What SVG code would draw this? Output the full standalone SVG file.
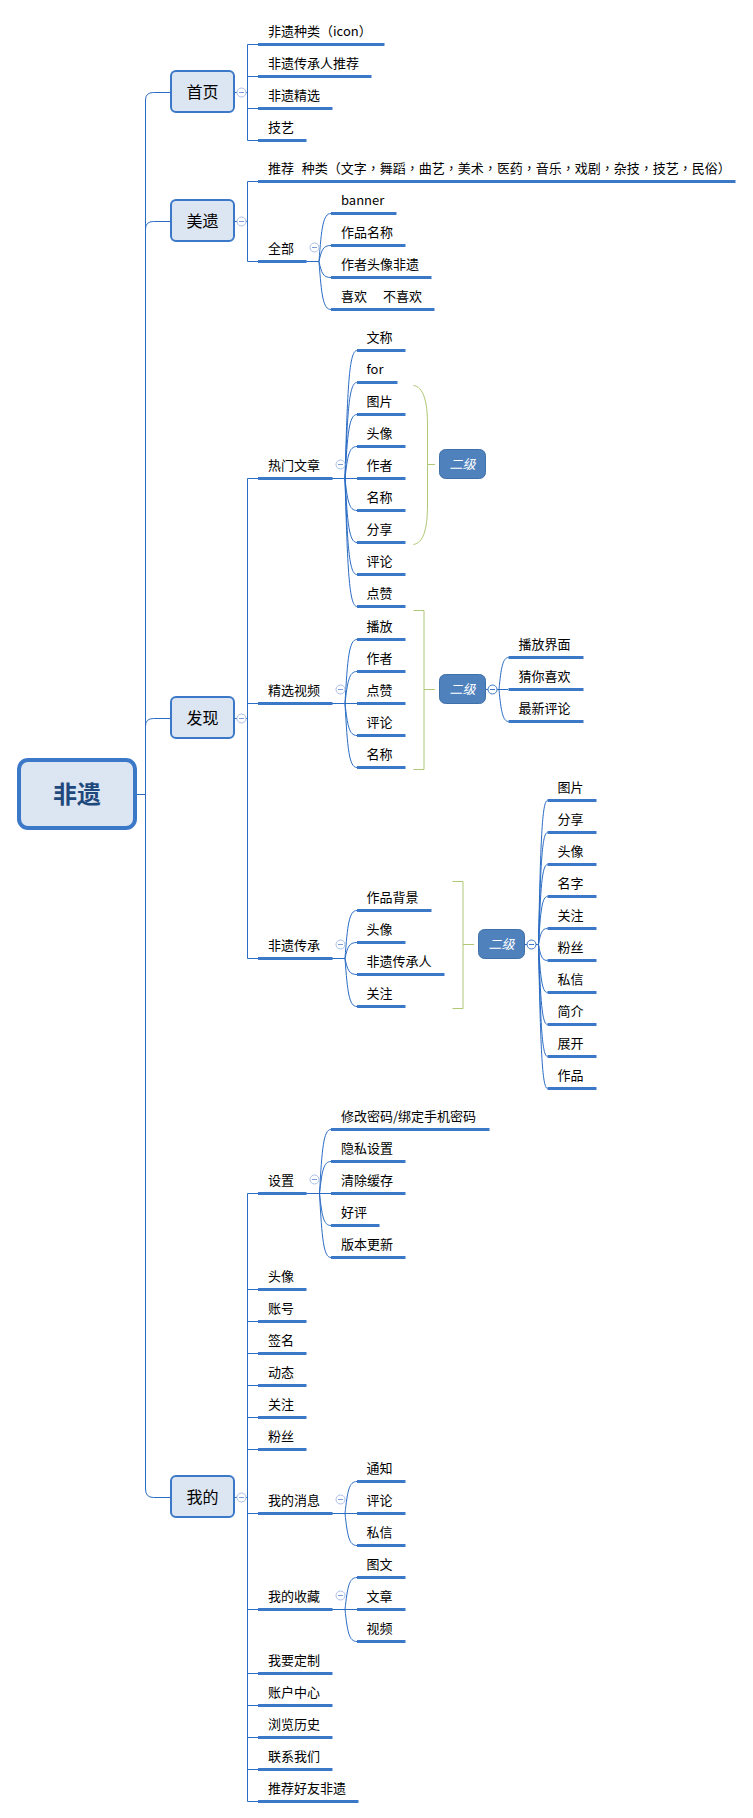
<svg xmlns="http://www.w3.org/2000/svg" width="753" height="1818" viewBox="0 0 753 1818">
<style>
text{font-family:"Noto Sans CJK SC","Microsoft YaHei",sans-serif;font-size:13px;fill:#000}
text.tc{font-family:"Noto Sans CJK TC","Noto Sans CJK SC",sans-serif}
tspan.kr{font-family:"Noto Sans CJK KR","Noto Sans CJK SC",sans-serif}
.u{stroke:#3c78c8;stroke-width:3;fill:none}
.k path,.k line{stroke:#2a6cc4;stroke-width:1;fill:none}
.b{stroke:#aec873;stroke-width:1;fill:none}
.l1 rect{fill:#dce6f2;stroke:#3c78c8;stroke-width:2}
.l1 text{font-size:16px;text-anchor:middle}
.sub rect{fill:#4f81bd;stroke:#3f70a8;stroke-width:1}
.sub text{fill:#fff;font-style:italic;text-anchor:middle}
</style>
<defs>
<g id="col"><circle r="4.5" fill="#fff" stroke="#a9bfe8" stroke-width="1"/><line x1="-2.5" x2="2.5" stroke="#7d9bd6" stroke-width="1"/></g>
<g id="cold"><circle r="4.5" fill="#fff" stroke="#3c78c8" stroke-width="1"/><line x1="-2.5" x2="2.5" stroke="#3c78c8" stroke-width="1"/></g>
</defs>
<rect width="753" height="1818" fill="#fff"/>
<g id="connectors" class="k">
<path d="M137 794.5H145.5"/>
<path d="M145.5 794.5V100Q145.5 92.500 153.500 92.500H170.500"/>
<path d="M145.500 794.500V229Q145.500 221.500 153.500 221.500H170.500"/>
<path d="M145.500 794.500V726Q145.500 718.500 153.500 718.500H170.500"/>
<path d="M145.500 794.500V1489Q145.500 1497.500 153.500 1497.500H170.500"/>
<path d="M234.500 92.500H247.500M258 44.500H247.500V140.500H258M247.500 76.500H258M247.500 108.500H258"/>
<path d="M234.500 221.500H247.500M258 181.500H247.500V261.500H258"/>
<path d="M234.500 718.500H247.500M258 478.500H247.500V958.500H258M247.500 703.500H258"/>
<path d="M234.500 1497.500H247.500M258 1193.500H247.500V1801.500H258M247.500 1289.500H258M247.500 1321.500H258M247.500 1353.500H258M247.500 1385.500H258M247.500 1417.500H258M247.500 1449.500H258M247.500 1513.500H258M247.500 1609.500H258M247.500 1673.500H258M247.500 1705.500H258M247.500 1737.500H258M247.500 1769.500H258"/>
<path d="M306 261.500H319C321.500 228 323 213.500 331 213.500M319 261.500C321.500 250 323 245.500 331 245.500M319 261.500C321.500 273 323 277.500 331 277.500M319 261.500C321.500 295 323 309.500 331 309.500"/>
<path d="M332 478.500H357M345 478.500C347.500 388.500 349 350.500 357 350.500M345 478.500C347.500 411 349 382.500 357 382.500M345 478.500C347.500 433.500 349 414.500 357 414.500M345 478.500C347.500 456 349 446.500 357 446.500M345 478.500C347.500 501 349 510.500 357 510.500M345 478.500C347.500 523.500 349 542.500 357 542.500M345 478.500C347.500 546 349 574.500 357 574.500M345 478.500C347.500 568.500 349 606.500 357 606.500"/>
<path d="M332 703.500H357M345 703.500C347.500 658.500 349 639.500 357 639.500M345 703.500C347.500 681.500 349 671.500 357 671.500M345 703.500C347.500 725.500 349 735.500 357 735.500M345 703.500C347.500 748.500 349 767.500 357 767.500"/>
<path d="M486 689.500H508M499 689.500C501 667.500 503 657.500 508.500 657.500M499 689.500C501 711.500 503 721.500 508.500 721.500"/>
<path d="M332 958.500H345M345 958.500C347.500 925 349 910.500 357 910.500M345 958.500C347.500 947 349 942.500 357 942.500M345 958.500C347.500 970 349 974.500 357 974.500M345 958.500C347.500 992 349 1006.500 357 1006.500"/>
<path d="M525 944.500H538.500M538.500 944.500C540.500 843.500 542 800.500 547.500 800.500M538.500 944.500C540.500 866 542 832.500 547.500 832.500M538.500 944.500C540.500 888.500 542 864.500 547.500 864.500M538.500 944.500C540.500 911 542 896.500 547.500 896.500M538.500 944.500C540.500 933 542 928.500 547.500 928.500M538.500 944.500C540.500 956 542 960.500 547.500 960.500M538.500 944.500C540.500 978 542 992.500 547.500 992.500M538.500 944.500C540.500 1000.500 542 1024.500 547.500 1024.500M538.500 944.500C540.500 1023 542 1056.500 547.500 1056.500M538.500 944.500C540.500 1045 542 1088.500 547.500 1088.500"/>
<path d="M306 1193.500H331M319.500 1193.500C322 1148.500 323.500 1129.500 331 1129.500M319.500 1193.500C322 1171 323.500 1161.500 331 1161.500M319.500 1193.500C322 1216 323.500 1225.500 331 1225.500M319.500 1193.500C322 1238.500 323.500 1257.500 331 1257.500"/>
<path d="M332 1513.500H357M345 1513.500C347.500 1491 349 1481.500 357 1481.500M345 1513.500C347.500 1536 349 1545.500 357 1545.500"/>
<path d="M332 1609.500H357M345 1609.500C347.500 1587 349 1577.500 357 1577.500M345 1609.500C347.500 1632 349 1641.500 357 1641.500"/>
<path class="b" style="stroke:#aec873" d="M413.500 385.500C423 387 427.500 400 427.500 425V505C427.500 530 423 543 413.500 544.500M427.500 464.500H435"/>
<path class="b" style="stroke:#aec873" d="M413.500 610.500H424V769.500H413.500M424 689.500H435"/>
<path class="b" style="stroke:#aec873" d="M452.500 881.500H463V1008.500H452.500M463 944.500H474"/>
</g>
<g id="root"><rect x="19" y="760" width="116" height="68" rx="9" fill="#dce6f2" stroke="#3c78c8" stroke-width="4"/><text x="77" y="803" text-anchor="middle" style="font-size:24px;font-weight:700;fill:#1f497d">非遗</text></g>
<g id="n-shouye" class="l1"><rect x="171" y="71" width="63" height="41" rx="5"/><text x="202.500" y="98">首页</text><use href="#col" x="241.500" y="92.500"/></g>
<g id="n-meiyi" class="l1"><rect x="171" y="200" width="63" height="41" rx="5"/><text x="202.500" y="227">美遗</text><use href="#col" x="241.500" y="221.500"/></g>
<g id="n-faxian" class="l1"><rect x="171" y="697" width="63" height="41" rx="5"/><text x="202.500" y="724">发现</text><use href="#col" x="241.500" y="718.500"/></g>
<g id="n-wode" class="l1"><rect x="171" y="1476" width="63" height="41" rx="5"/><text x="202.500" y="1503">我的</text><use href="#col" x="241.500" y="1497.500"/></g>
<g id="a1"><path class="u" d="M258 44.500H384.500"/><text class="tc" x="268" y="36">非遗种类<tspan class="kr">（</tspan>icon<tspan class="kr">）</tspan></text></g>
<g id="a2"><path class="u" d="M258 76.500H371.500"/><text x="268" y="68">非遗传承人推荐</text></g>
<g id="a3"><path class="u" d="M258 108.500H332.500"/><text x="268" y="100">非遗精选</text></g>
<g id="a4"><path class="u" d="M258 140.500H306.500"/><text x="268" y="132">技艺</text></g>
<g id="b1"><path class="u" d="M258 181.500H735.500"/><text class="tc" x="268" y="173">推荐 <tspan x="301.700">种类</tspan><tspan class="kr">（</tspan>文字，舞蹈，曲艺，美术，医药，音乐，戏剧，杂技，技艺，民俗<tspan class="kr">）</tspan></text></g>
<g id="b2"><path class="u" d="M258 261.500H306.500"/><text x="268" y="253">全部</text><use href="#col" x="314.500" y="247.500"/></g>
<g id="b21"><path class="u" d="M331 213.500H396.500"/><text x="341" y="205">banner</text></g>
<g id="b22"><path class="u" d="M331 245.500H405.500"/><text x="341" y="237">作品名称</text></g>
<g id="b23"><path class="u" d="M331 277.500H431.500"/><text x="341" y="269">作者头像非遗</text></g>
<g id="b24"><path class="u" d="M331 309.500H434.500"/><text x="341" y="301">喜欢 <tspan x="383">不喜欢</tspan></text></g>
<g id="c1"><path class="u" d="M258 478.500H332.500"/><text x="268" y="470">热门文章</text><use href="#col" x="340.500" y="464.500"/></g>
<g id="c11"><path class="u" d="M357 350.500H405.500"/><text x="366.500" y="342">文称</text></g>
<g id="c12"><path class="u" d="M357 382.500H397.500"/><text x="366.500" y="374">for</text></g>
<g id="c13"><path class="u" d="M357 414.500H405.500"/><text x="366.500" y="406">图片</text></g>
<g id="c14"><path class="u" d="M357 446.500H405.500"/><text x="366.500" y="438">头像</text></g>
<g id="c15"><path class="u" d="M357 478.500H405.500"/><text x="366.500" y="470">作者</text></g>
<g id="c16"><path class="u" d="M357 510.500H405.500"/><text x="366.500" y="502">名称</text></g>
<g id="c17"><path class="u" d="M357 542.500H405.500"/><text x="366.500" y="534">分享</text></g>
<g id="c18"><path class="u" d="M357 574.500H405.500"/><text x="366.500" y="566">评论</text></g>
<g id="c19"><path class="u" d="M357 606.500H405.500"/><text x="366.500" y="598">点赞</text></g>
<g id="c1s" class="sub"><rect x="439.500" y="449.500" width="46" height="29" rx="6"/><text x="462.500" y="469">二级</text></g>
<g id="c2"><path class="u" d="M258 703.500H332.500"/><text x="268" y="695">精选视频</text><use href="#col" x="340.500" y="689.500"/></g>
<g id="c21"><path class="u" d="M357 639.500H405.500"/><text x="366.500" y="631">播放</text></g>
<g id="c22"><path class="u" d="M357 671.500H405.500"/><text x="366.500" y="663">作者</text></g>
<g id="c23"><path class="u" d="M357 703.500H405.500"/><text x="366.500" y="695">点赞</text></g>
<g id="c24"><path class="u" d="M357 735.500H405.500"/><text x="366.500" y="727">评论</text></g>
<g id="c25"><path class="u" d="M357 767.500H405.500"/><text x="366.500" y="759">名称</text></g>
<g id="c2s" class="sub"><rect x="439.500" y="674.500" width="46" height="29" rx="6"/><text x="462.500" y="694">二级</text><use href="#cold" x="492.500" y="689.500"/></g>
<g id="c2s1"><path class="u" d="M508.500 657.500H583.500"/><text x="518.500" y="649">播放界面</text></g>
<g id="c2s2"><path class="u" d="M508.500 689.500H583.500"/><text x="518.500" y="681">猜你喜欢</text></g>
<g id="c2s3"><path class="u" d="M508.500 721.500H583.500"/><text x="518.500" y="713">最新评论</text></g>
<g id="c3"><path class="u" d="M258 958.500H332.500"/><text x="268" y="950">非遗传承</text><use href="#col" x="340.500" y="944.500"/></g>
<g id="c31"><path class="u" d="M357 910.500H431.500"/><text x="366.500" y="902">作品背景</text></g>
<g id="c32"><path class="u" d="M357 942.500H405.500"/><text x="366.500" y="934">头像</text></g>
<g id="c33"><path class="u" d="M357 974.500H444.500"/><text x="366.500" y="966">非遗传承人</text></g>
<g id="c34"><path class="u" d="M357 1006.500H405.500"/><text x="366.500" y="998">关注</text></g>
<g id="c3s" class="sub"><rect x="478.500" y="929.500" width="46" height="29" rx="6"/><text x="501.500" y="949">二级</text><use href="#cold" x="531.500" y="944.500"/></g>
<g id="d01"><path class="u" d="M547.500 800.500H596.500"/><text x="557.500" y="792">图片</text></g>
<g id="d02"><path class="u" d="M547.500 832.500H596.500"/><text x="557.500" y="824">分享</text></g>
<g id="d03"><path class="u" d="M547.500 864.500H596.500"/><text x="557.500" y="856">头像</text></g>
<g id="d04"><path class="u" d="M547.500 896.500H596.500"/><text x="557.500" y="888">名字</text></g>
<g id="d05"><path class="u" d="M547.500 928.500H596.500"/><text x="557.500" y="920">关注</text></g>
<g id="d06"><path class="u" d="M547.500 960.500H596.500"/><text x="557.500" y="952">粉丝</text></g>
<g id="d07"><path class="u" d="M547.500 992.500H596.500"/><text x="557.500" y="984">私信</text></g>
<g id="d08"><path class="u" d="M547.500 1024.500H596.500"/><text x="557.500" y="1016">简介</text></g>
<g id="d09"><path class="u" d="M547.500 1056.500H596.500"/><text x="557.500" y="1048">展开</text></g>
<g id="d10"><path class="u" d="M547.500 1088.500H596.500"/><text x="557.500" y="1080">作品</text></g>
<g id="e1"><path class="u" d="M258 1193.500H306.500"/><text x="268" y="1185">设置</text><use href="#col" x="314.500" y="1179.500"/></g>
<g id="e11"><path class="u" d="M331 1129.500H489.500"/><text x="341" y="1121">修改密码/绑定手机密码</text></g>
<g id="e12"><path class="u" d="M331 1161.500H405.500"/><text x="341" y="1153">隐私设置</text></g>
<g id="e13"><path class="u" d="M331 1193.500H405.500"/><text x="341" y="1185">清除缓存</text></g>
<g id="e14"><path class="u" d="M331 1225.500H379.500"/><text x="341" y="1217">好评</text></g>
<g id="e15"><path class="u" d="M331 1257.500H405.500"/><text x="341" y="1249">版本更新</text></g>
<g id="e2"><path class="u" d="M258 1289.500H306.500"/><text x="268" y="1281">头像</text></g>
<g id="e3"><path class="u" d="M258 1321.500H306.500"/><text x="268" y="1313">账号</text></g>
<g id="e4"><path class="u" d="M258 1353.500H306.500"/><text x="268" y="1345">签名</text></g>
<g id="e5"><path class="u" d="M258 1385.500H306.500"/><text x="268" y="1377">动态</text></g>
<g id="e6"><path class="u" d="M258 1417.500H306.500"/><text x="268" y="1409">关注</text></g>
<g id="e7"><path class="u" d="M258 1449.500H306.500"/><text x="268" y="1441">粉丝</text></g>
<g id="e8"><path class="u" d="M258 1513.500H332.500"/><text x="268" y="1505">我的消息</text><use href="#col" x="340.500" y="1499.500"/></g>
<g id="e81"><path class="u" d="M357 1481.500H405.500"/><text x="366.500" y="1473">通知</text></g>
<g id="e82"><path class="u" d="M357 1513.500H405.500"/><text x="366.500" y="1505">评论</text></g>
<g id="e83"><path class="u" d="M357 1545.500H405.500"/><text x="366.500" y="1537">私信</text></g>
<g id="e9"><path class="u" d="M258 1609.500H332.500"/><text x="268" y="1601">我的收藏</text><use href="#col" x="340.500" y="1595.500"/></g>
<g id="e91"><path class="u" d="M357 1577.500H405.500"/><text x="366.500" y="1569">图文</text></g>
<g id="e92"><path class="u" d="M357 1609.500H405.500"/><text x="366.500" y="1601">文章</text></g>
<g id="e93"><path class="u" d="M357 1641.500H405.500"/><text x="366.500" y="1633">视频</text></g>
<g id="e10"><path class="u" d="M258 1673.500H332.500"/><text x="268" y="1665">我要定制</text></g>
<g id="e11b"><path class="u" d="M258 1705.500H332.500"/><text x="268" y="1697">账户中心</text></g>
<g id="e12b"><path class="u" d="M258 1737.500H332.500"/><text x="268" y="1729">浏览历史</text></g>
<g id="e13b"><path class="u" d="M258 1769.500H332.500"/><text x="268" y="1761">联系我们</text></g>
<g id="e14b"><path class="u" d="M258 1801.500H358.500"/><text x="268" y="1793">推荐好友非遗</text></g>
</svg>
